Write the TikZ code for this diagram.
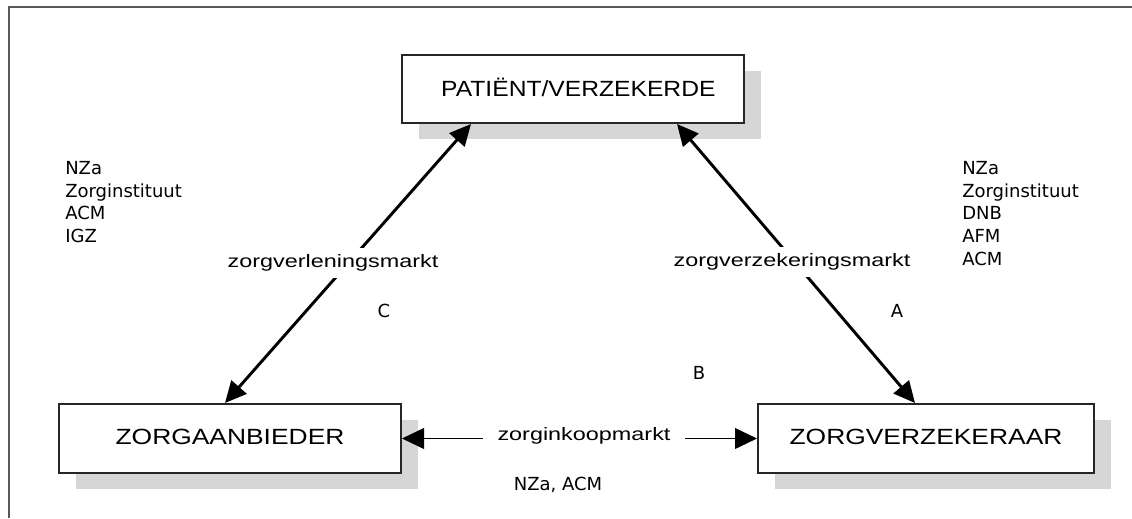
\documentclass[tikz,border=0pt]{standalone}
\usepackage{fontspec}
\usepackage{graphicx}
\setmainfont{Liberation Sans}
\newfontfamily\verd{DejaVu Sans}
\usetikzlibrary{arrows.meta,calc,shadows}
\begin{document}
\begin{tikzpicture}[x=0.75pt,y=-0.75pt,
  boxst/.style={draw=black!85, line width=1.5pt, fill=white, inner sep=0pt,
    minimum height=51pt, font=\fontsize{16.5}{18}\selectfont,
    drop shadow={shadow xshift=12.75pt, shadow yshift=-12pt, fill=black!16, opacity=1}},
  mktlabel/.style={fill=white, inner xsep=11pt, inner ysep=5pt, font=\fontsize{13.5}{15}\selectfont},
  reglist/.style={inner sep=0pt, align=left, anchor=north west, font=\verd\fontsize{13.5}{17}\selectfont},
  letter/.style={inner sep=0pt, font=\verd\fontsize{13.5}{15}\selectfont},
  diag/.style={line width=2.2pt, {Triangle[length=16pt,width=15pt]}-{Triangle[length=16pt,width=15pt]}},
  horiz/.style={line width=1.4pt, {Triangle[length=16.5pt,width=15.5pt]}-{Triangle[length=16.5pt,width=15.5pt]}}
]
\useasboundingbox (0,0) rectangle (1132,518);
\fill[white] (0,0) rectangle (1132,518);
% frame
\draw[black!65, line width=1.5pt] (9,518) -- (9,7) -- (1132,7);

% boxes
\node[boxst, minimum width=256.5pt] (pat) at (573,89)
  {\raisebox{2pt}{\hspace*{8pt}\scalebox{1.12}[1]{PATIËNT/VERZEKERDE}}};
\node[boxst, minimum width=256.5pt, minimum height=51.75pt] (zab) at (230,438.5)
  {\raisebox{3pt}{\scalebox{1.2}[1]{ZORGAANBIEDER}}};
\node[boxst, minimum width=252pt, minimum height=51.75pt] (zv) at (926,438.5)
  {\raisebox{3pt}{\scalebox{1.2}[1]{ZORGVERZEKERAAR}}};

% connectors
\draw[diag] ($(pat.south)+(-102,0)$) -- ($(zab.north)+(-5,0)$);
\draw[diag] ($(pat.south)+(104,0)$) -- ($(zv.north)+(-11,0)$);
\draw[horiz] (zab.east) -- (zv.west);

% market labels
\node[mktlabel] (lverl) at (333,263) {\scalebox{1.3}[1]{zorgverleningsmarkt}};
\node[mktlabel] (lverz) at (792,262) {\scalebox{1.3}[1]{zorgverzekeringsmarkt}};
\node[mktlabel] (link) at (584,436) {\scalebox{1.3}[1]{zorginkoopmarkt}};

% regulators
\node[reglist] (regl) at (65,161) {NZa\\Zorginstituut\\ACM\\IGZ};
\node[reglist] (regr) at (962,161) {NZa\\Zorginstituut\\DNB\\AFM\\ACM};
\node[letter] (lc) at (384,311) {C};
\node[letter] (la) at (897,311) {A};
\node[letter] (lb) at (699,373) {B};
\node[letter] (regb) at (558,485) {NZa, ACM};
\end{tikzpicture}
\end{document}
